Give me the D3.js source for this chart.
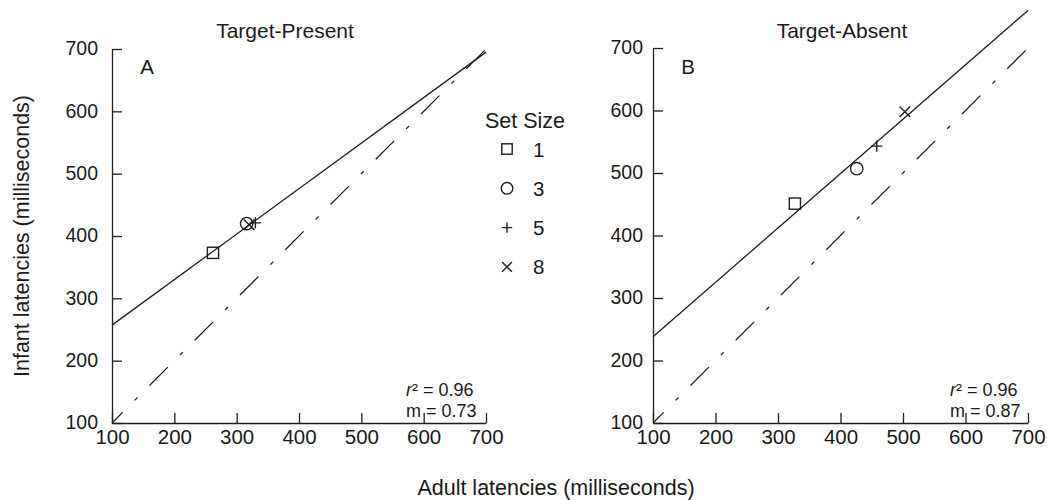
<!DOCTYPE html>
<html>
<head>
<meta charset="utf-8">
<script src="https://cdn.jsdelivr.net/npm/d3@7"></script>
<style>
  html, body { margin: 0; padding: 0; background: #fff; }
  svg text { font-family: "Liberation Sans", Arial, Helvetica, sans-serif; fill: #1a1a1a; }
</style>
</head>
<body>
<svg id="chart" width="1047" height="500"></svg>
<script>
// Axis ticks (milliseconds)
const tickValues = [100, 200, 300, 400, 500, 600, 700];

// Set sizes and their marker shapes
const setSizes = ["1", "3", "5", "8"];
const markerShapes = ["square", "circle", "plus", "cross"];

// Target-present: adult vs infant mean latencies per set size
const presentAdult = [262, 316, 330, 320];
const presentInfant = [373, 420, 421, 418];

// Target-absent
const absentAdult = [327, 426, 458, 503];
const absentInfant = [451, 507, 543, 598];

// Regression fits (intercept, slope) and statistics
const presentFit = [184, 0.73];
const absentFit = [151, 0.87];
const presentStats = ["0.96", "0.73"];
const absentStats = ["0.96", "0.87"];

const svg = d3.select("#chart");
svg.append("rect").attr("width", 1047).attr("height", 500).attr("fill", "#fff");

const ink = "#1e1e1e";
const font = "'Liberation Sans', Arial, sans-serif";

function drawMarker(g, shape, cx, cy, r) {
  const s = g.append("g").attr("transform", `translate(${cx},${cy})`)
    .attr("fill", "none").attr("stroke", ink).attr("stroke-width", 1.4);
  if (shape === "square") {
    s.append("rect").attr("x", -r).attr("y", -r).attr("width", 2 * r).attr("height", 2 * r);
  } else if (shape === "circle") {
    s.append("circle").attr("r", r + 0.6);
  } else if (shape === "plus") {
    s.append("path").attr("d", `M${-r},0H${r}M0,${-r}V${r}`);
  } else {
    const q = r * 0.95;
    s.append("path").attr("d", `M${-q},${-q}L${q},${q}M${-q},${q}L${q},${-q}`);
  }
}

function panel(opts) {
  const x = d3.scaleLinear().domain([100, 700]).range(opts.xRange);
  const y = d3.scaleLinear().domain([100, 700]).range(opts.yRange);
  const g = svg.append("g");

  // y axis, ticks pointing inward
  const ya = g.append("g").attr("transform", `translate(${opts.xRange[0]},0)`)
    .call(d3.axisLeft(y).tickValues(tickValues).tickFormat(d3.format("d"))
      .tickSize(-10).tickSizeOuter(0).tickPadding(opts.yPad));
  // x axis, ticks pointing inward
  const xa = g.append("g").attr("transform", `translate(0,${opts.yRange[0]})`)
    .call(d3.axisBottom(x).tickValues(tickValues).tickFormat(d3.format("d"))
      .tickSize(-10).tickSizeOuter(0).tickPadding(8));
  [ya, xa].forEach(a => {
    a.selectAll("path, line").attr("stroke", ink).attr("stroke-width", 1.3);
    a.selectAll("text").attr("fill", ink).style("font-family", font);
  });
  ya.selectAll("text").attr("font-size", 19.5).attr("dy", "0.3em");
  xa.selectAll("text").attr("font-size", 20.5).attr("y", 21).attr("dy", "0");
  g.selectAll(".domain").attr("fill", "none");

  // identity line (dash-dot)
  g.append("line")
    .attr("x1", x(100)).attr("y1", y(100)).attr("x2", x(700)).attr("y2", y(700))
    .attr("stroke", ink).attr("stroke-width", 1.3)
    .attr("stroke-dasharray", "26,17,4,17").attr("stroke-dashoffset", 11);

  // regression line
  const [a, m] = opts.fit;
  g.append("line")
    .attr("x1", x(100)).attr("y1", y(a + m * 100))
    .attr("x2", x(700)).attr("y2", y(a + m * 700))
    .attr("stroke", ink).attr("stroke-width", 1.3);

  // data markers
  opts.adult.forEach((v, i) => drawMarker(g, markerShapes[i], x(v), y(opts.infant[i]), 5.6));

  // title and panel letter
  g.append("text").attr("x", opts.titleX).attr("y", 38).attr("text-anchor", "middle")
    .attr("font-size", 21).text(opts.title);
  g.append("text").attr("x", opts.xRange[0] + 35).attr("y", 74)
    .attr("text-anchor", "middle").attr("font-size", 20.5).text(opts.letter);

  // statistics
  const st = g.append("text").attr("x", opts.statsX).attr("y", 396).attr("font-size", 18);
  st.append("tspan").attr("font-style", "italic").text("r");
  st.append("tspan").text("\u00B2 = " + opts.stats[0]);
  g.append("text").attr("x", opts.statsX).attr("y", 416.5).attr("font-size", 18)
    .text("m = " + opts.stats[1]);
}

panel({
  xRange: [112, 486], yRange: [423, 49], yPad: 14,
  adult: presentAdult, infant: presentInfant, fit: presentFit,
  title: "Target-Present", titleX: 285, letter: "A",
  stats: presentStats, statsX: 406
});
panel({
  xRange: [653, 1028], yRange: [423, 48], yPad: 10,
  adult: absentAdult, infant: absentInfant, fit: absentFit,
  title: "Target-Absent", titleX: 842, letter: "B",
  stats: absentStats, statsX: 950
});

// legend
const lg = svg.append("g");
lg.append("text").attr("x", 525).attr("y", 128).attr("text-anchor", "middle")
  .attr("font-size", 21.5).text("Set Size");
setSizes.forEach((s, i) => {
  const cy = 149 + i * 39.3;
  drawMarker(lg, markerShapes[i], 507, cy, 5.2);
  lg.append("text").attr("x", 533).attr("y", cy + 7.5).attr("font-size", 20.5).text(s);
});

// axis titles
svg.append("text").attr("transform", "translate(29,236) rotate(-90)")
  .attr("text-anchor", "middle").attr("font-size", 21.5)
  .text("Infant latencies (milliseconds)");
svg.append("text").attr("x", 556).attr("y", 495).attr("text-anchor", "middle")
  .attr("font-size", 21.5).text("Adult latencies (milliseconds)");
</script>
</body>
</html>
